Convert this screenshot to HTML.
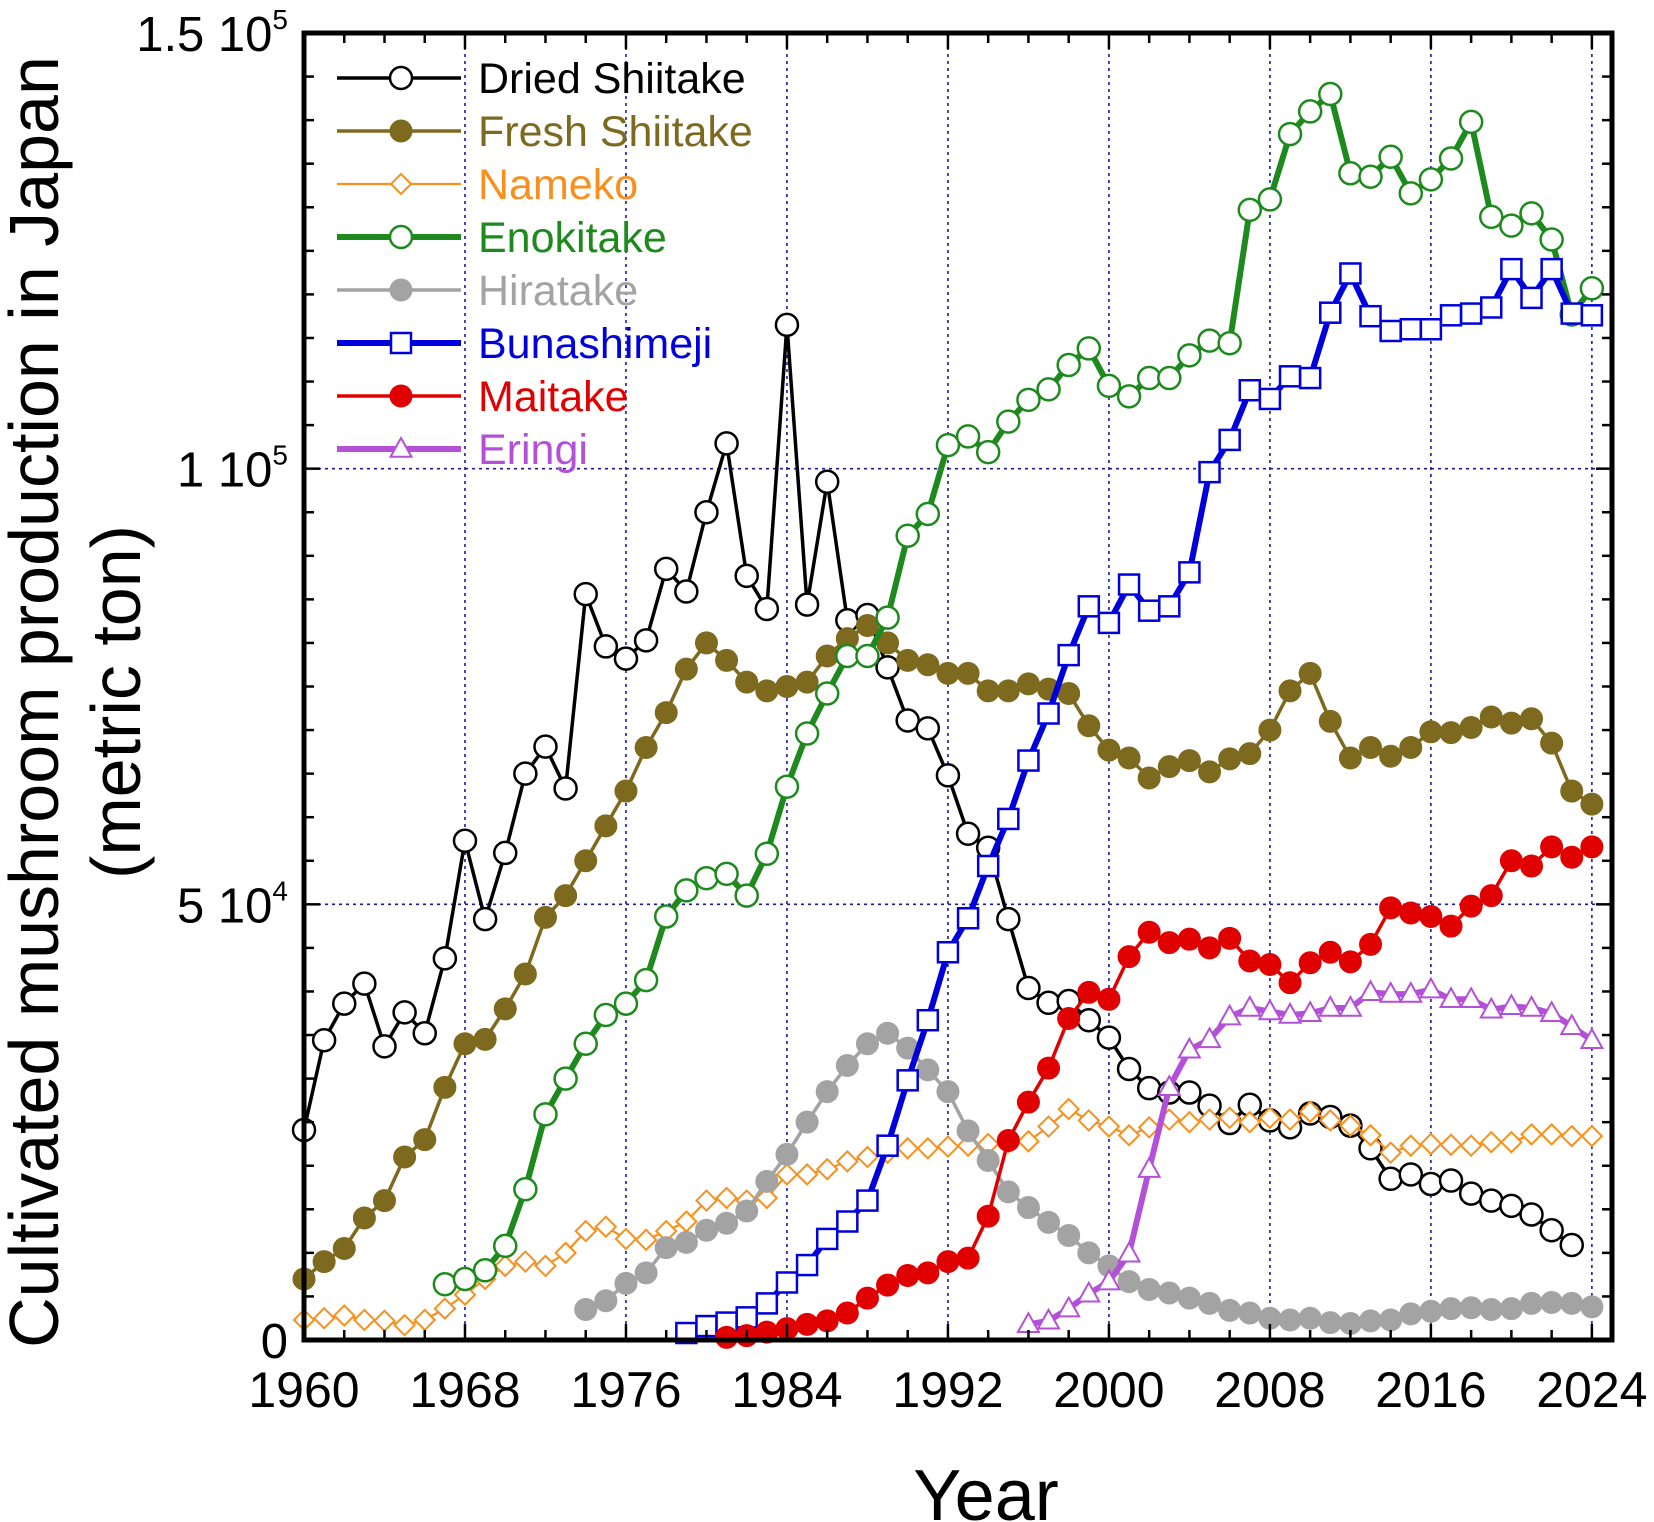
<!DOCTYPE html>
<html><head><meta charset="utf-8"><style>
html,body{margin:0;padding:0;background:#fff;}
svg{display:block;font-family:"Liberation Sans",Arial,sans-serif;}
</style></head><body>
<svg id="chart" width="1654" height="1522" viewBox="0 0 1654 1522" xmlns="http://www.w3.org/2000/svg">
<g id="grid"></g>
<g id="series"></g>
<g id="axes"></g>
<g id="legend"></g>
<text x="986" y="1520" font-size="72" text-anchor="middle">Year</text>
<text transform="translate(58,702) rotate(-90)" font-size="70" text-anchor="middle">Cultivated mushroom production in Japan</text>
<text transform="translate(140,702) rotate(-90)" font-size="70" text-anchor="middle">(metric ton)</text>
</svg>
<script>
const years0 = 1960;
const driedShiitake = [24.1,34.4,38.6,40.9,33.7,37.6,35.2,43.8,57.3,48.3,55.9,65.0,68.1,63.3,85.6,79.6,78.2,80.3,88.5,85.9,95.0,102.9,87.7,83.9,116.5,84.4,98.5,82.6,83.2,77.2,71.1,70.2,64.8,58.1,56.5,48.3,40.4,38.7,38.9,36.7,34.7,31.1,28.9,28.4,28.4,26.9,24.9,27.0,25.2,24.4,26.0,25.6,24.6,22.0,18.5,19.0,17.9,18.3,16.8,16.0,15.4,14.4,12.6,10.9];
const freshShiitake = [7.0,9.0,10.5,14,16,21,23,29,34,34.5,38,42,48.5,51,55,59,63,68,72,77,80,78,75.5,74.5,75,75.5,78.5,80.5,82,80,78,77.5,76.5,76.5,74.5,74.5,75.3,74.7,74.2,70.5,67.7,66.8,64.5,65.8,66.5,65.2,66.7,67.3,70,74.5,76.5,71,66.8,68,67,68,69.8,69.7,70.3,71.5,70.8,71.3,68.5,63,61.5];
const nameko = [2.3,2.5,2.8,2.3,2.2,1.7,2.3,3.6,5.2,7,8.5,9,8.5,10,12.5,13,11.6,11.5,12.5,13.6,16,16.3,16,16.3,19,19,19.6,20.5,21,21.5,22,22,22.2,22.3,22.5,22.7,22.8,24.5,26.5,25.2,24.5,23.5,24.4,25.3,25,25.3,25.5,25,25.5,25.3,26.2,25.2,24.6,23.5,21.5,22.3,22.5,22.4,22.3,22.7,22.7,23.6,23.6,23.4,23.4];
const enokitakeStart = 1967;
const enokitake = [6.4,7.0,8.0,10.8,17.3,25.9,30,34,37.3,38.6,41.3,48.6,51.6,53,53.5,51,55.8,63.5,69.6,74.2,78.5,78.5,82.9,92.3,94.8,102.7,103.7,101.9,105.4,107.9,109.1,111.9,113.8,109.5,108.3,110.4,110.4,113.0,114.7,114.4,129.7,130.9,138.4,141.0,143.0,133.9,133.5,135.8,131.6,133.2,135.6,139.8,128.9,127.9,129.3,126.3,117.7,120.7];
const hiratakeStart = 1974;
const hiratake = [3.5,4.5,6.5,7.7,10.6,11.2,12.6,13.4,14.8,18.2,21.3,25,28.5,31.5,34,35.2,33.5,31,28.5,24,20.6,17,15.2,13.5,12,10,8.5,6.7,5.8,5.4,4.8,4.2,3.4,3.1,2.5,2.3,2.5,2.0,1.9,2.2,2.3,3.0,3.3,3.6,3.7,3.5,3.6,4.2,4.3,4.2,3.8];
const bunaStart = 1979;
const bunashimeji = [0.8,1.6,2.0,2.6,4.2,6.6,8.6,11.6,13.6,16,22.3,29.8,36.7,44.5,48.4,54.4,59.8,66.5,71.9,78.6,84.2,82.3,86.7,83.7,84.2,88.1,99.6,103.3,109.0,108.0,110.6,110.4,117.9,122.4,117.5,115.8,116.0,116.0,117.6,117.8,118.5,122.9,119.6,122.9,117.8,117.6];
const maitakeStart = 1981;
const maitake = [0.3,0.5,0.9,1.3,1.8,2.2,3.1,4.8,6.3,7.4,7.7,9.0,9.4,14.2,22.9,27.3,31.2,36.9,39.9,39.1,44.0,46.8,45.6,46.0,45.0,46.1,43.5,43.1,41.0,43.3,44.5,43.4,45.4,49.6,49.0,48.6,47.5,49.8,51.0,55.0,54.4,56.6,55.4,56.6];
const eringiStart = 1996;
const eringi = [1.8,2.2,3.6,5.3,6.7,9.9,19.6,29.0,33.3,34.5,37.1,38.1,37.7,37.3,37.5,38.1,38.1,39.9,39.7,39.7,40.2,39.1,39.1,37.9,38.3,38.1,37.5,36.0,34.4];
const xTickLabels = ["1960","1968","1976","1984","1992","2000","2008","2016","2024"];
const yTickValues = [0,50000,100000,150000];

const NS="http://www.w3.org/2000/svg";
const L=304,R=1612,T=33,B=1340,XMIN=1960,XMAX=2025,YMAX=150000;
const xs=v=>L+(v-XMIN)/(XMAX-XMIN)*(R-L);
const ys=v=>B-v/YMAX*(B-T);
function mk(tag,attrs,parent){const e=document.createElementNS(NS,tag);for(const k in attrs)e.setAttribute(k,attrs[k]);parent.appendChild(e);return e;}
const grid=document.getElementById('grid'),axes=document.getElementById('axes'),ser=document.getElementById('series'),leg=document.getElementById('legend');

for(const t of xTickLabels){const x=xs(+t);if(x<=L+1)continue;
 const g=mk('line',{x1:x,x2:x,y1:T,y2:B,stroke:'#1a1aa0','stroke-width':1.6,'stroke-dasharray':'3,4'},grid);
 
 }
for(const v of [50000,100000]){const y=ys(v);
 const g=mk('line',{x1:L,x2:R,y1:y,y2:y,stroke:'#1a1aa0','stroke-width':1.6,'stroke-dasharray':'3,4'},grid);
 
 }

for(let yr=1962;yr<=2024;yr+=2){const x=xs(yr);const len=(yr%8===0)?16:10;
 mk('line',{x1:x,x2:x,y1:B,y2:B-len,stroke:'#000','stroke-width':2.5},axes);
 mk('line',{x1:x,x2:x,y1:T,y2:T+len,stroke:'#000','stroke-width':2.5},axes);}
for(let v=5000;v<150000;v+=5000){const y=ys(v);const len=(v%50000===0)?16:10;
 mk('line',{x1:L,x2:L+len,y1:y,y2:y,stroke:'#000','stroke-width':2.5},axes);
 mk('line',{x1:R,x2:R-len,y1:y,y2:y,stroke:'#000','stroke-width':2.5},axes);}
const frame=mk('rect',{x:L,y:T,width:R-L,height:B-T,fill:'none',stroke:'#000','stroke-width':5},axes);



for(const t of xTickLabels){const tx=mk('text',{x:xs(+t),y:1407,'font-size':50,'text-anchor':'middle'},axes);tx.textContent=t;
 
 }
for(const v of yTickValues){const y=ys(v);const tx=mk('text',{x:288,y:y+18,'font-size':49,'text-anchor':'end'},axes);
 
 
 if(v===0){tx.textContent='0';}
 else{const m=v/100000;tx.textContent=(m===1?'1':m===0.5?'5':'1.5')+' 10';
  const e=mk('tspan',{dy:-22,'font-size':28},tx);e.textContent=(v===50000?'4':'5');}}

function marker(type,x,y,color,parent,r){
 let e;
 if(type==='circle-open')e=mk('circle',{cx:x,cy:y,r:r,fill:'#fff',stroke:color,'stroke-width':2.5},parent);
 else if(type==='circle-filled')e=mk('circle',{cx:x,cy:y,r:r,fill:color,stroke:color,'stroke-width':1},parent);
 else if(type==='diamond')e=mk('polygon',{points:`${x},${y-r} ${x+r},${y} ${x},${y+r} ${x-r},${y}`,fill:'#fff',stroke:color,'stroke-width':2},parent);
 else if(type==='square')e=mk('rect',{x:x-r,y:y-r,width:2*r,height:2*r,fill:'#fff',stroke:color,'stroke-width':2.5},parent);
 else if(type==='triangle')e=mk('polygon',{points:`${x},${y-r} ${x+r*0.95},${y+r*0.7} ${x-r*0.95},${y+r*0.7}`,fill:'#fff',stroke:color,'stroke-width':2},parent);
 return e;}

const defs=[
 {name:'Dried Shiitake',data:driedShiitake,start:1960,color:'#000000',lw:3.5,m:'circle-open',r:11},
 {name:'Fresh Shiitake',data:freshShiitake,start:1960,color:'#7d6a1e',lw:3.5,m:'circle-filled',r:11},
 {name:'Nameko',data:nameko,start:1960,color:'#f7901e',lw:2.2,m:'diamond',r:10},
 {name:'Enokitake',data:enokitake,start:enokitakeStart,color:'#1e8a1e',lw:6,m:'circle-open',r:11},
 {name:'Hiratake',data:hiratake,start:hiratakeStart,color:'#a3a3a3',lw:3.5,m:'circle-filled',r:11},
 {name:'Bunashimeji',data:bunashimeji,start:bunaStart,color:'#0000dc',lw:6,m:'square',r:10},
 {name:'Maitake',data:maitake,start:maitakeStart,color:'#e00000',lw:3.5,m:'circle-filled',r:11},
 {name:'Eringi',data:eringi,start:eringiStart,color:'#b450d8',lw:6,m:'triangle',r:11}];

for(const s of defs){
 const g=mk('g',{},ser);
 
 
 const pts=s.data.map((v,i)=>[xs(s.start+i),ys(v*1000)]);
 const pl=mk('polyline',{points:pts.map(p=>p.join(',')).join(' '),fill:'none',stroke:s.color,'stroke-width':s.lw,'stroke-linejoin':'round'},g);
 
 
 for(const p of pts){const mm=marker(s.m,p[0],p[1],s.color,g,s.r);
  
  }
}

defs.forEach((s,i)=>{
 const y=78+i*53;
 const g=mk('g',{},leg);
 
 
 mk('line',{x1:337,x2:461,y1:y,y2:y,stroke:s.color,'stroke-width':s.lw},g);
 marker(s.m,401,y,s.color,g,s.r);
 const t=mk('text',{x:478,y:y+15,'font-size':43,fill:s.color},g);t.textContent=s.name;
});
</script>
</body></html>
